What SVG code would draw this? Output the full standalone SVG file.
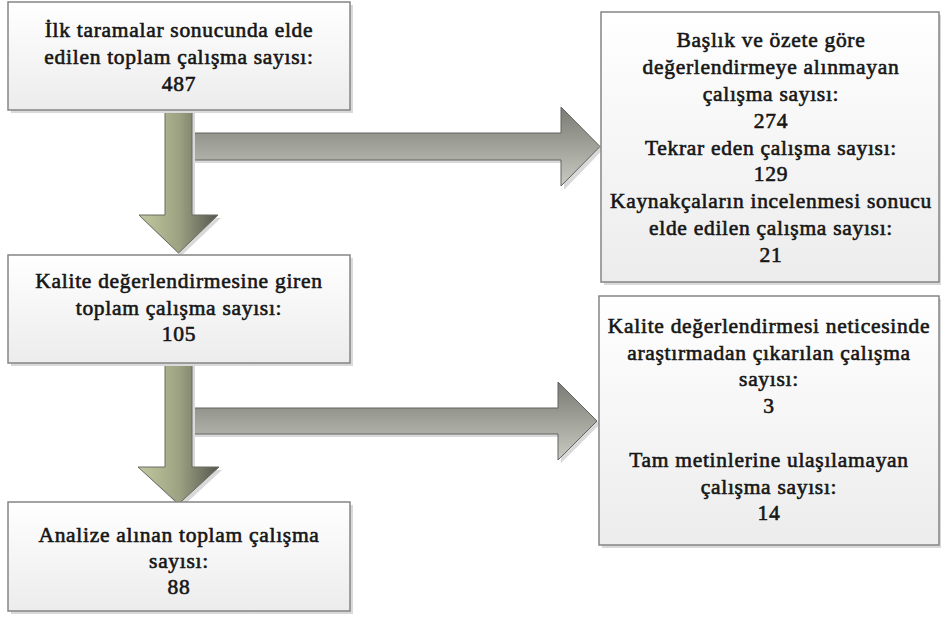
<svg xmlns="http://www.w3.org/2000/svg" width="942" height="618" viewBox="0 0 942 618">
<defs>
<linearGradient id="boxg" x1="0" y1="0" x2="0" y2="1">
<stop offset="0" stop-color="#ffffff"/>
<stop offset="1" stop-color="#ececec"/>
</linearGradient>
<linearGradient id="vg" x1="0" y1="0" x2="1" y2="0">
<stop offset="0" stop-color="#c3c99f"/>
<stop offset="0.5" stop-color="#9da382"/>
<stop offset="1" stop-color="#54564f"/>
</linearGradient>
<linearGradient id="hg" x1="0" y1="0" x2="0" y2="1">
<stop offset="0" stop-color="#797b74"/>
<stop offset="1" stop-color="#c9cac1"/>
</linearGradient>
</defs>
<style>
.box{fill:url(#boxg);stroke:#858585;stroke-width:1.5}
.sh{fill:#d9d9d9}
.va{fill:url(#vg);stroke:#6a6a62;stroke-width:1}
.ha{fill:url(#hg);stroke:#62635e;stroke-width:1}
.t{font-size:21.5px;letter-spacing:0.7px;fill:#161616;stroke:#161616;stroke-width:0.6px;text-anchor:middle}
</style>
<g id="connectors">
<path class="sh" d="M195,136 H564 V110 L603,149.5 L564,190 V163 H195 Z"/>
<path class="ha" d="M192,133 H561 V107 L600,146.5 L561,186 V160 H192 Z"/>
<path class="sh" d="M168,112 H195 V218 H221 L181,256 L141,218 H168 Z"/>
<path class="va" d="M165,110 H192 V215 H218 L178.5,253 L139,215 H165 Z"/>
<path class="sh" d="M195,411 H561 V385 L600,424 L561,463 V437 H195 Z"/>
<path class="ha" d="M192,408 H558 V382 L597,421 L558,460 V434 H192 Z"/>
<path class="sh" d="M168,365 H195 V470 H222 L181,508 L141,470 H168 Z"/>
<path class="va" d="M165,363 H192 V467 H219 L178.5,504 L138,467 H165 Z"/>
</g>
<g id="n1" font-family="Liberation Serif">
<rect class="sh" x="11" y="5" width="342" height="108"/>
<rect class="box" x="8" y="2" width="342" height="108"/>
<text class="t" x="179" y="37">İlk taramalar sonucunda elde</text>
<text class="t" x="179" y="64">edilen toplam çalışma sayısı:</text>
<text class="t" x="179" y="91">487</text>
</g>
<g id="n2" font-family="Liberation Serif">
<rect class="sh" x="11" y="258" width="342" height="108"/>
<rect class="box" x="8" y="255" width="342" height="108"/>
<text class="t" x="179" y="288">Kalite değerlendirmesine giren</text>
<text class="t" x="179" y="315">toplam çalışma sayısı:</text>
<text class="t" x="179" y="341">105</text>
</g>
<g id="n3" font-family="Liberation Serif">
<rect class="sh" x="11" y="505" width="342" height="109"/>
<rect class="box" x="8" y="502" width="342" height="109"/>
<text class="t" x="179" y="542">Analize alınan toplam çalışma</text>
<text class="t" x="179" y="568">sayısı:</text>
<text class="t" x="179" y="594">88</text>
</g>
<g id="n4" font-family="Liberation Serif">
<rect class="sh" x="604" y="15" width="337" height="270"/>
<rect class="box" x="601" y="12" width="338" height="270"/>
<text class="t" x="771" y="47">Başlık ve özete göre</text>
<text class="t" x="771" y="74">değerlendirmeye alınmayan</text>
<text class="t" x="771" y="101">çalışma sayısı:</text>
<text class="t" x="771" y="128">274</text>
<text class="t" x="771" y="155">Tekrar eden çalışma sayısı:</text>
<text class="t" x="771" y="181">129</text>
<text class="t" x="771" y="208">Kaynakçaların incelenmesi sonucu</text>
<text class="t" x="771" y="235">elde edilen çalışma sayısı:</text>
<text class="t" x="771" y="262">21</text>
</g>
<g id="n5" font-family="Liberation Serif">
<rect class="sh" x="602" y="299" width="339" height="249"/>
<rect class="box" x="599" y="296" width="340" height="249"/>
<text class="t" x="769" y="333">Kalite değerlendirmesi neticesinde</text>
<text class="t" x="769" y="360">araştırmadan çıkarılan çalışma</text>
<text class="t" x="769" y="386">sayısı:</text>
<text class="t" x="769" y="413">3</text>
<text class="t" x="769" y="467">Tam metinlerine ulaşılamayan</text>
<text class="t" x="769" y="494">çalışma sayısı:</text>
<text class="t" x="769" y="520">14</text>
</g>
</svg>
